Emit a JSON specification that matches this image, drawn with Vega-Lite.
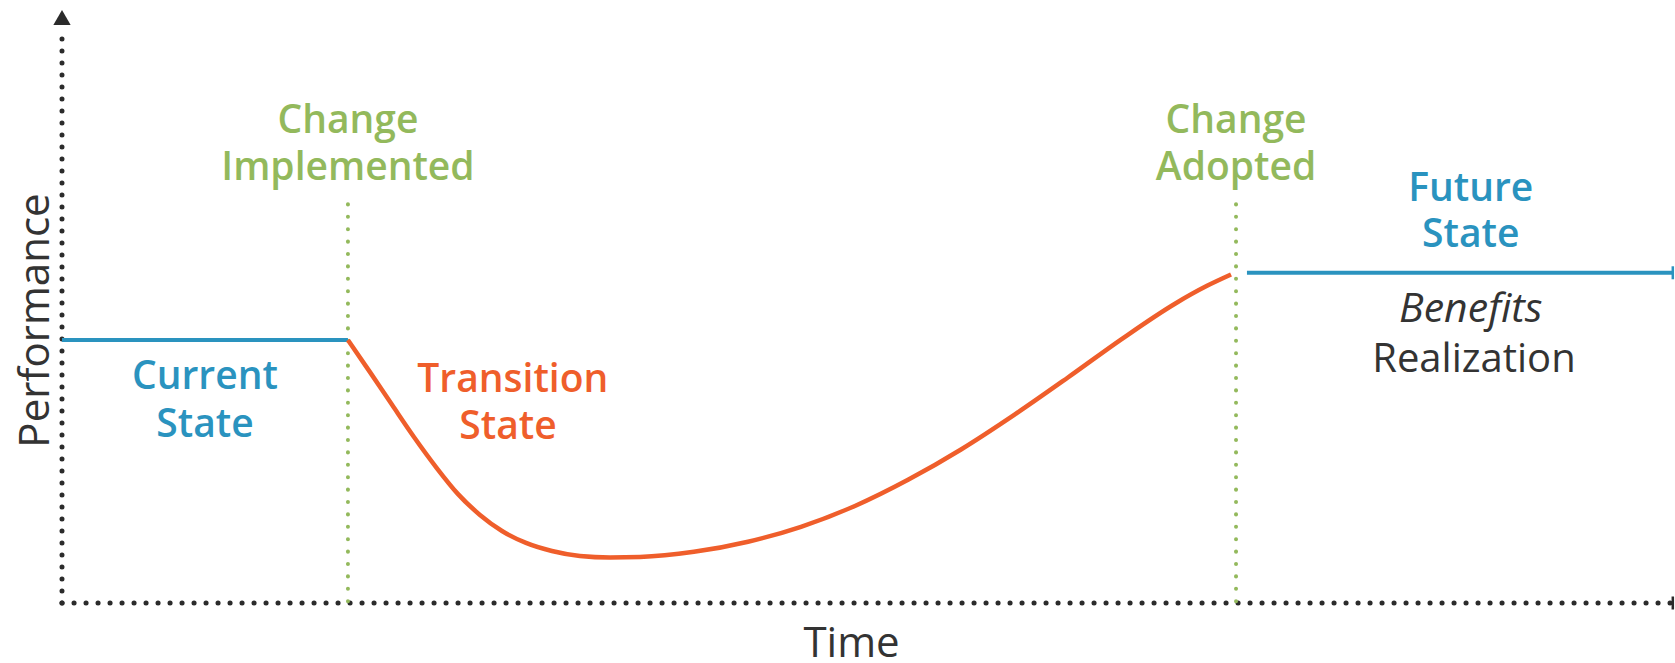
{
  "$schema": "https://vega.github.io/schema/vega-lite/v6.json",
  "width": 1610,
  "height": 595,
  "autosize": {"type": "none"},
  "padding": {"left": 62, "top": 8, "right": 3, "bottom": 60},
  "background": "white",
  "config": {
    "view": {"stroke": null},
    "font": "Open Sans",
    "axis": {"domain": false, "ticks": false, "labels": false, "grid": false, "titleFontSize": 42, "titleColor": "#333333", "titleFontWeight": 500, "titleFont": "Open Sans"},
    "axisX": {"titleX": 789, "titleY": 53, "titleBaseline": "alphabetic"},
    "axisY": {"titleX": -14, "titleY": 312, "titleBaseline": "alphabetic", "titleAngle": 270}
  },
  "datasets": {
    "axes": [
      {"t": 0, "p": 0, "t2": 100, "p2": 0, "kind": "axis"},
      {"t": 0, "p": 0, "t2": 0, "p2": 96.3, "kind": "axis"}
    ],
    "milestones": [
      {"t": 17.76, "p": 67, "t2": 17.76, "p2": 0, "kind": "milestone"},
      {"t": 72.92, "p": 67, "t2": 72.92, "p2": 0, "kind": "milestone"}
    ],
    "states": [
      {"t": 0, "p": 44.2, "t2": 17.76, "p2": 44.2, "kind": "state"},
      {"t": 73.6, "p": 55.5, "t2": 100, "p2": 55.5, "kind": "state"}
    ],
    "curve": [
      {"t": 17.76, "p": 44.2}, {"t": 19.13, "p": 38.8}, {"t": 20.5, "p": 33.3}, {"t": 21.86, "p": 27.9},
      {"t": 23.23, "p": 22.85}, {"t": 24.6, "p": 18.3}, {"t": 25.96, "p": 14.8}, {"t": 27.33, "p": 12.1},
      {"t": 28.82, "p": 10.1}, {"t": 30.43, "p": 8.74}, {"t": 32.17, "p": 7.9}, {"t": 34.04, "p": 7.65},
      {"t": 35.9, "p": 7.73}, {"t": 39.25, "p": 8.6}, {"t": 42.61, "p": 10.3}, {"t": 45.9, "p": 12.8},
      {"t": 49.25, "p": 16.3}, {"t": 52.55, "p": 20.7}, {"t": 55.84, "p": 25.8}, {"t": 59.19, "p": 31.7},
      {"t": 62.48, "p": 37.9}, {"t": 65.84, "p": 44.4}, {"t": 69.13, "p": 50.3}, {"t": 71.12, "p": 53.3},
      {"t": 72.61, "p": 55.2}
    ],
    "arrowTop": [{"t": 0, "p": 98.4, "kind": "axis"}],
    "arrowEnds": [
      {"t": 100.05, "p": 55.5, "kind": "state"},
      {"t": 100.05, "p": 0, "kind": "axis"}
    ],
    "labels": [
      {"t": 17.76, "p": 81.0, "label": "Change", "kind": "milestone"},
      {"t": 17.76, "p": 73.1, "label": "Implemented", "kind": "milestone"},
      {"t": 72.92, "p": 81.0, "label": "Change", "kind": "milestone"},
      {"t": 72.92, "p": 73.1, "label": "Adopted", "kind": "milestone"},
      {"t": 8.88, "p": 38.0, "label": "Current", "kind": "state"},
      {"t": 8.88, "p": 30.0, "label": "State", "kind": "state"},
      {"t": 28.0, "p": 37.4, "label": "Transition", "kind": "transition"},
      {"t": 27.7, "p": 29.5, "label": "State", "kind": "transition"},
      {"t": 87.5, "p": 69.6, "label": "Future", "kind": "state"},
      {"t": 87.5, "p": 61.8, "label": "State", "kind": "state"}
    ],
    "benefits": [{"t": 87.5, "p": 49.3, "label": "Benefits", "kind": "benefit"}],
    "realization": [{"t": 87.7, "p": 40.9, "label": "Realization", "kind": "benefit"}]
  },
  "layer": [
    {
      "data": {"name": "axes"},
      "mark": {"type": "rule", "strokeWidth": 5, "strokeDash": [0.1, 11.9], "strokeCap": "round"},
      "encoding": {
        "x": {"field": "t", "type": "quantitative", "scale": {"domain": [0, 100]}, "title": "Time"},
        "y": {"field": "p", "type": "quantitative", "scale": {"domain": [0, 100]}, "title": "Performance"},
        "x2": {"field": "t2"},
        "y2": {"field": "p2"},
        "color": {"field": "kind", "type": "nominal", "legend": null, "scale": {"domain": ["axis", "milestone", "state", "transition", "benefit"], "range": ["#2b2b2b", "#93b95c", "#2a93bf", "#ef5e2b", "#333333"]}}
      }
    },
    {
      "data": {"name": "milestones"},
      "mark": {"type": "rule", "strokeWidth": 4, "strokeDash": [0.1, 12.3], "strokeCap": "round"},
      "encoding": {
        "x": {"field": "t", "type": "quantitative", "title": "Time"},
        "y": {"field": "p", "type": "quantitative", "title": "Performance"},
        "x2": {"field": "t2"},
        "y2": {"field": "p2"},
        "color": {"field": "kind", "type": "nominal", "legend": null}
      }
    },
    {
      "data": {"name": "states"},
      "mark": {"type": "rule", "strokeWidth": 4},
      "encoding": {
        "x": {"field": "t", "type": "quantitative", "title": "Time"},
        "y": {"field": "p", "type": "quantitative", "title": "Performance"},
        "x2": {"field": "t2"},
        "y2": {"field": "p2"},
        "color": {"field": "kind", "type": "nominal", "legend": null}
      }
    },
    {
      "data": {"name": "curve"},
      "mark": {"type": "line", "interpolate": "monotone", "strokeWidth": 4.5, "color": "#ef5e2b"},
      "encoding": {
        "x": {"field": "t", "type": "quantitative", "title": "Time"},
        "y": {"field": "p", "type": "quantitative", "title": "Performance"}
      }
    },
    {
      "data": {"name": "arrowTop"},
      "mark": {"type": "point", "shape": "triangle-up", "size": 300, "filled": true, "opacity": 1},
      "encoding": {
        "x": {"field": "t", "type": "quantitative", "title": "Time"},
        "y": {"field": "p", "type": "quantitative", "title": "Performance"},
        "color": {"field": "kind", "type": "nominal", "legend": null}
      }
    },
    {
      "data": {"name": "arrowEnds"},
      "mark": {"type": "tick", "orient": "vertical", "size": 13, "thickness": 2.5, "opacity": 1},
      "encoding": {
        "x": {"field": "t", "type": "quantitative", "title": "Time"},
        "y": {"field": "p", "type": "quantitative", "title": "Performance"},
        "color": {"field": "kind", "type": "nominal", "legend": null}
      }
    },
    {
      "data": {"name": "labels"},
      "mark": {"type": "text", "fontSize": 39, "fontWeight": 600, "align": "center", "baseline": "middle"},
      "encoding": {
        "x": {"field": "t", "type": "quantitative", "title": "Time"},
        "y": {"field": "p", "type": "quantitative", "title": "Performance"},
        "text": {"field": "label"},
        "color": {"field": "kind", "type": "nominal", "legend": null}
      }
    },
    {
      "data": {"name": "benefits"},
      "mark": {"type": "text", "fontSize": 41, "fontStyle": "italic", "fontWeight": 500, "align": "center", "baseline": "middle"},
      "encoding": {
        "x": {"field": "t", "type": "quantitative", "title": "Time"},
        "y": {"field": "p", "type": "quantitative", "title": "Performance"},
        "text": {"field": "label"},
        "color": {"field": "kind", "type": "nominal", "legend": null}
      }
    },
    {
      "data": {"name": "realization"},
      "mark": {"type": "text", "fontSize": 40, "fontWeight": 500, "align": "center", "baseline": "middle"},
      "encoding": {
        "x": {"field": "t", "type": "quantitative", "title": "Time"},
        "y": {"field": "p", "type": "quantitative", "title": "Performance"},
        "text": {"field": "label"},
        "color": {"field": "kind", "type": "nominal", "legend": null}
      }
    }
  ]
}
